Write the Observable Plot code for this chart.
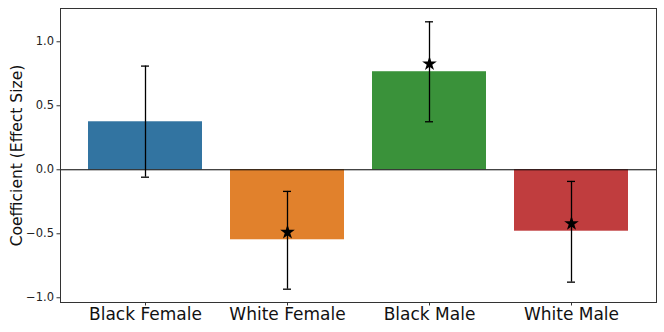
<!DOCTYPE html>
<html><head><meta charset="utf-8">
<script src="https://cdn.jsdelivr.net/npm/d3@7"></script>
<script src="https://cdn.jsdelivr.net/npm/@observablehq/plot@0.6"></script>
<style>body{margin:0;background:#fff;font-family:"DejaVu Sans",sans-serif}</style>
</head><body><div id="chart"></div>
<script>
const groups = ["Black Female", "White Female", "Black Male", "White Male"];
const coef = [0.375, -0.547, 0.766, -0.48];
const ciLow = [-0.058, -0.933, 0.375, -0.878];
const ciHigh = [0.81, -0.169, 1.156, -0.091];
const starVal = [null, -0.488, 0.828, -0.42];
const colors = ["#3274a1", "#e1812c", "#3a923a", "#c03d3e"];
const yTicks = [-1.0, -0.5, 0.0, 0.5, 1.0];

const data = groups.map((g, i) => ({g, v: coef[i], lo: ciLow[i], hi: ciHigh[i], s: starVal[i]}));
const fmt = d => (d < 0 ? "\u2212" : "") + Math.abs(d).toFixed(1);

const chart = Plot.plot({
  width: 664, height: 332,
  marginLeft: 60, marginRight: 8, marginTop: 8, marginBottom: 30,
  style: {fontFamily: "DejaVu Sans, sans-serif", background: "#fff"},
  x: {domain: groups, paddingInner: 0.2, paddingOuter: 0.19, label: null},
  y: {domain: [-1.037, 1.26], label: null},
  color: {domain: groups, range: colors},
  marks: [
    Plot.barY(data, {x: "g", y: "v", fill: "g"}),
    Plot.ruleY([0], {stroke: "#000", strokeWidth: 1}),
    Plot.ruleX(data, {x: "g", y1: "lo", y2: "hi", stroke: "#000", strokeWidth: 1.3}),
    Plot.tickY(data, {x: "g", y: "lo", stroke: "#000", strokeWidth: 1.3, insetLeft: 53, insetRight: 53}),
    Plot.tickY(data, {x: "g", y: "hi", stroke: "#000", strokeWidth: 1.3, insetLeft: 53, insetRight: 53}),
    Plot.dot(data.filter(d => d.s != null), {x: "g", y: "s", symbol: "star", r: 4.6, fill: "#000", stroke: null}),
    Plot.frame({stroke: "#333", strokeWidth: 1}),
    Plot.axisY(yTicks, {tickFormat: fmt, tickSize: 3.5, tickPadding: 3, fontSize: 11.5, label: null, stroke: "#333", fill: "#222"}),
    Plot.axisX({tickSize: 3.5, tickPadding: 2, fontSize: 17, label: null, stroke: "#333", fill: "#111"}),
    Plot.text(["Coefficient (Effect Size)"], {frameAnchor: "left", textAnchor: "middle", rotate: -90, dx: -43, fontSize: 15.5, fill: "#111"})
  ]
});
document.getElementById("chart").appendChild(chart);
</script>
</body></html>
